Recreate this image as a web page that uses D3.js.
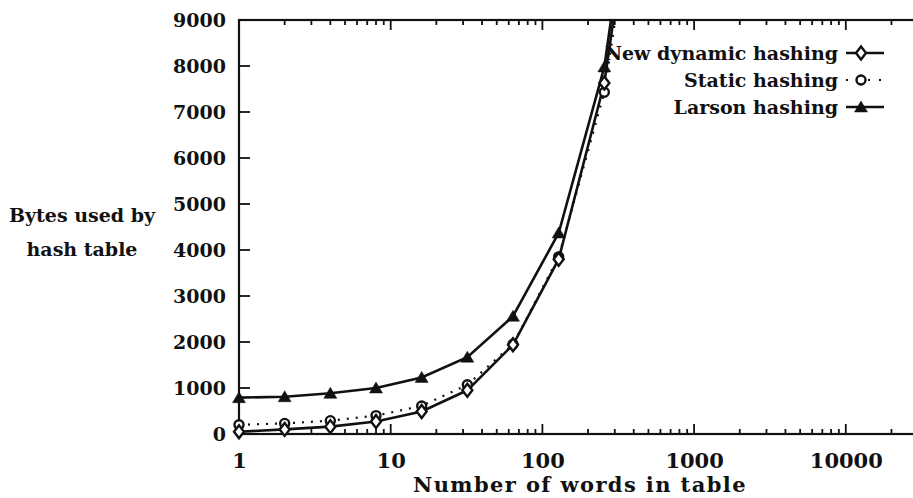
<!DOCTYPE html>
<html>
<head>
<meta charset="utf-8">
<script src="https://cdn.jsdelivr.net/npm/d3@7"></script>
<style>
  body { margin: 0; background: #fff; }
  svg text { font-family: "DejaVu Serif", serif; font-weight: bold; fill: #111; }
</style>
</head>
<body>
<svg id="chart" width="913" height="498"></svg>
<script>
// words in table (log axis) and bytes used by each scheme
var words = [1, 2, 4, 8, 16, 32, 64, 128, 256, 512];
var dynamicBytes = [50, 100, 160, 270, 490, 950, 1940, 3800, 7630, 14500];
var staticBytes = [200, 230, 290, 400, 610, 1070, 1950, 3850, 7430, 14000];
var larsonBytes = [790, 810, 885, 1000, 1230, 1670, 2560, 4370, 7980, 15000];

var xMajor = [1, 10, 100, 1000, 10000];
var yTicks = [0, 1000, 2000, 3000, 4000, 5000, 6000, 7000, 8000, 9000];
var seriesNames = ["New dynamic hashing", "Static hashing", "Larson hashing"];

var pLeft = 239, pTop = 20, pRight = 924, pBottom = 434;

var svg = d3.select("#chart");
var x = d3.scaleLog().domain([1, 32768]).range([pLeft, pRight]);
var y = d3.scaleLinear().domain([0, 9000]).range([pBottom, pTop]);

var xMinor = [];
for (var d = 1; d <= 10000; d *= 10) {
  for (var k = 2; k <= 9; k++) if (d * k <= 32768) xMinor.push(d * k);
}

// tick labels via d3 axes, tick marks drawn by hand (inward, all four sides)
svg.append("g").attr("transform", "translate(0," + pBottom + ")")
  .call(d3.axisBottom(x).tickValues(xMajor).tickSize(0).tickPadding(19).tickFormat(d3.format("d")))
  .call(function(g) { g.select(".domain").remove(); })
  .selectAll("text").attr("font-size", 21).attr("font-family", null).attr("fill", null);
svg.append("g").attr("transform", "translate(" + pLeft + ",0)")
  .call(d3.axisLeft(y).tickValues(yTicks).tickSize(0).tickPadding(13).tickFormat(d3.format("d")))
  .call(function(g) { g.select(".domain").remove(); })
  .selectAll("text").attr("font-size", 19).attr("font-family", null).attr("fill", null);

var ticks = svg.append("g").attr("stroke", "#111").attr("stroke-width", 1.8);
function xTickMarks(vals, len) {
  [[pBottom, -1], [pTop, 1]].forEach(function(side) {
    ticks.selectAll(null).data(vals).enter().append("line")
      .attr("x1", function(v) { return x(v); }).attr("x2", function(v) { return x(v); })
      .attr("y1", side[0]).attr("y2", side[0] + side[1] * len);
  });
}
xTickMarks(xMajor, 10);
xTickMarks(xMinor, 5);
[[pLeft, 1], [pRight, -1]].forEach(function(side) {
  ticks.selectAll(null).data(yTicks).enter().append("line")
    .attr("y1", function(v) { return y(v); }).attr("y2", function(v) { return y(v); })
    .attr("x1", side[0]).attr("x2", side[0] + side[1] * 11);
});

// frame
svg.append("rect").attr("x", pLeft).attr("y", pTop)
  .attr("width", pRight - pLeft).attr("height", pBottom - pTop)
  .attr("fill", "none").attr("stroke", "#111").attr("stroke-width", 2.2);

svg.append("clipPath").attr("id", "plot")
  .append("rect").attr("x", pLeft - 8).attr("y", pTop)
  .attr("width", pRight - pLeft + 8).attr("height", pBottom - pTop + 8);

var plot = svg.append("g").attr("clip-path", "url(#plot)");

var line = d3.line().x(function(d) { return x(d[0]); }).y(function(d) { return y(d[1]); });
function pairs(vals) { return words.map(function(w, i) { return [w, vals[i]]; }); }

var diamond = "M0,-6.5L5,0L0,6.5L-5,0Z";
var tri = "M0,-6L6.5,5L-6.5,5Z";

// pos(d) gives [px, py] for a data pair
function drawMarkers(g, pts, kind, pos) {
  var sel = g.selectAll(null).data(pts).enter();
  if (kind === "circle") {
    sel.append("circle").attr("cx", function(d) { return pos(d)[0]; })
      .attr("cy", function(d) { return pos(d)[1]; }).attr("r", 4.5)
      .attr("fill", "#fff").attr("stroke", "#111").attr("stroke-width", 2.4);
  } else {
    sel.append("path").attr("d", kind === "diamond" ? diamond : tri)
      .attr("transform", function(d) { var p = pos(d); return "translate(" + p[0] + "," + p[1] + ")"; })
      .attr("fill", kind === "diamond" ? "#fff" : "#111")
      .attr("stroke", "#111").attr("stroke-width", kind === "diamond" ? 2.4 : 0.5);
  }
}
function dataPos(d) { return [x(d[0]), y(d[1])]; }

plot.append("path").datum(pairs(larsonBytes)).attr("d", line)
  .attr("fill", "none").attr("stroke", "#111").attr("stroke-width", 2.6);
plot.append("path").datum(pairs(dynamicBytes)).attr("d", line)
  .attr("fill", "none").attr("stroke", "#111").attr("stroke-width", 2.6);
plot.append("path").datum(pairs(staticBytes)).attr("d", line)
  .attr("fill", "none").attr("stroke", "#111").attr("stroke-width", 2.2)
  .attr("stroke-dasharray", "2,7");
drawMarkers(plot, pairs(larsonBytes), "tri", dataPos);
drawMarkers(plot, pairs(staticBytes), "circle", dataPos);
drawMarkers(plot, pairs(dynamicBytes), "diamond", dataPos);

// legend
var kinds = ["diamond", "circle", "tri"];
var legY = [53, 80, 107];
seriesNames.forEach(function(name, i) {
  var g = svg.append("g");
  g.append("text").attr("x", 838).attr("y", legY[i]).attr("dy", "0.35em")
    .attr("text-anchor", "end").attr("font-size", 19).text(name);
  g.append("line").attr("x1", 846).attr("x2", 884).attr("y1", legY[i]).attr("y2", legY[i])
    .attr("stroke", "#111").attr("stroke-width", i === 1 ? 2.2 : 2.6)
    .attr("stroke-dasharray", i === 1 ? "2,9" : null);
  drawMarkers(g, [0], kinds[i], function() { return [861, legY[i]]; });
});

// axis titles
svg.append("text").attr("x", 580).attr("y", 215).attr("dy", "0.35em")
  .attr("x", 82).attr("text-anchor", "middle").attr("font-size", 19).text("Bytes used by");
svg.append("text").attr("x", 82).attr("y", 249).attr("dy", "0.35em")
  .attr("text-anchor", "middle").attr("font-size", 19).text("hash table");
svg.append("text").attr("x", 580).attr("y", 492)
  .attr("text-anchor", "middle").attr("font-size", 21).attr("letter-spacing", 1.4)
  .text("Number of words in table");
</script>
</body>
</html>
